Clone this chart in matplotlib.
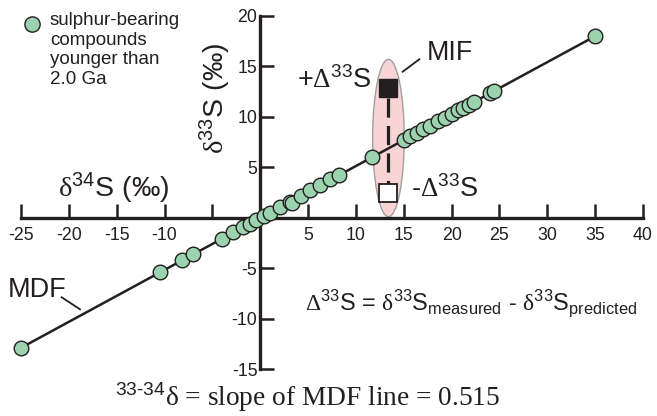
import matplotlib
matplotlib.use("Agg")
import matplotlib.pyplot as plt
from matplotlib.patches import Ellipse
from matplotlib.ticker import FixedLocator, FuncFormatter

plt.rcParams['font.family'] = ['Liberation Sans', 'DejaVu Sans']
plt.rcParams['mathtext.fontset'] = 'custom'
plt.rcParams['mathtext.rm'] = 'Liberation Sans'
plt.rcParams['mathtext.it'] = 'Liberation Sans:italic'
plt.rcParams['mathtext.bf'] = 'Liberation Sans:bold'
plt.rcParams['mathtext.sf'] = 'Liberation Serif'

# ---- data ----
d34 = [-25.0, -10.5, -8.2, -7.0, -4.0, -2.8, -1.8, -1.1, -0.4, 0.4, 1.0, 2.1, 3.1, 3.3,
       4.3, 5.2, 6.2, 7.3, 8.2, 11.7, 15.0, 15.7, 16.4, 17.0, 17.7, 18.6, 19.3, 20.0,
       20.7, 21.2, 21.8, 22.3, 24.0, 24.4, 35.0]
d33 = [-12.9, -5.4, -4.2, -3.6, -2.1, -1.4, -0.9, -0.6, -0.2, 0.2, 0.5, 1.1, 1.6, 1.45,
       2.2, 2.7, 3.2, 3.8, 4.2, 6.0, 7.7, 8.1, 8.4, 8.8, 9.1, 9.6, 9.9, 10.3,
       10.7, 10.9, 11.2, 11.5, 12.4, 12.6, 18.0]
mdf_x = [-25.0, 35.0]
mdf_y = [-12.9, 18.0]
mif_x = [13.3, 13.3]
mif_y = [12.9, 2.5]          # +D33S (filled) and -D33S (open) squares
xticks = [-25, -20, -15, -10, -5, 5, 10, 15, 20, 25, 30, 35, 40]
yticks = [-15, -10, -5, 5, 10, 15, 20]
hidden_xlabels = [-5]

W, H = 657, 416
fig = plt.figure(figsize=(W / 100, H / 100), dpi=100)

def fx(px):
    return px / W

def fy(py):
    return 1 - py / H

left, right, top, bottom = 21, 643, 16, 369
ax = fig.add_axes([fx(left), fy(bottom), (right - left) / W, (bottom - top) / H])
ax.set_xlim(-25, 40)
ax.set_ylim(-15, 20)
ax.patch.set_visible(False)

for s in ['top', 'right']:
    ax.spines[s].set_visible(False)
ax.spines['left'].set_position(('data', 0))
ax.spines['bottom'].set_position(('data', 0))
for s in ['left', 'bottom']:
    ax.spines[s].set_linewidth(2.4)
    ax.spines[s].set_color('#231f20')
    ax.spines[s].set_zorder(2.5)

ax.xaxis.set_major_locator(FixedLocator(xticks))
ax.yaxis.set_major_locator(FixedLocator(yticks))
ax.xaxis.set_major_formatter(FuncFormatter(lambda v, p: '' if v in hidden_xlabels else '%d' % v))
ax.yaxis.set_major_formatter(FuncFormatter(lambda v, p: '%d' % v))
ax.tick_params(axis='both', direction='in', length=10, width=1.8, color='#231f20',
               labelsize=12.8, labelcolor='#231f20')
ax.tick_params(axis='x', pad=7)
ax.tick_params(axis='y', pad=2)

# MIF ellipse
ell = Ellipse((13.4, 7.9), 3.3, 15.6, facecolor='#f9d4d4', edgecolor='#a0a0a0',
              linewidth=1.0, zorder=1)
ax.add_patch(ell)

# MDF line
ax.plot(mdf_x, mdf_y, color='#231f20', lw=1.8, zorder=2, clip_on=False)

# data points
ax.plot(d34, d33, 'o', ms=10.5, mfc='#9bd3ae', mec='#231f20', mew=1.0,
        zorder=3, clip_on=False)

# MIF dashed connector and squares
ax.plot(mif_x, [mif_y[0] - 1.0, mif_y[1] + 0.8], color='#231f20', lw=2.3,
        linestyle=(0, (6.0, 2.6)), zorder=3.5)
ax.plot(mif_x[0], mif_y[0], 's', ms=13, mfc='#231f20', mec='#231f20', zorder=4)
ax.plot(mif_x[1], mif_y[1], 's', ms=12.5, mfc='white', mec='#231f20', mew=1.3, zorder=4)

tc = '#231f20'
# legend
fig.lines.append(plt.Line2D([fx(31.7)], [fy(24)], marker='o', ms=11, mfc='#9bd3ae',
                            mec=tc, mew=1.0, transform=fig.transFigure))
fig.text(fx(50), fy(12), 'sulphur-bearing\ncompounds\nyounger than\n2.0 Ga',
         fontsize=13.5, va='top', ha='left', color=tc, linespacing=1.2)

# axis labels
fig.text(fx(114), fy(197), r'$\mathsf{\delta}^{34}$S (‰)', fontsize=20.5,
         ha='center', va='baseline', color=tc)
fig.text(fx(215), fy(98), r'$\mathsf{\delta}^{33}$S (‰)', fontsize=20.5,
         ha='center', va='center', rotation=90, color=tc)

# annotations
fig.text(fx(297), fy(88), r'+$\mathsf{\Delta}^{33}$S', fontsize=19.5,
         ha='left', va='baseline', color=tc)
fig.text(fx(411), fy(197), r'-$\mathsf{\Delta}^{33}$S', fontsize=19.5,
         ha='left', va='baseline', color=tc)
fig.text(fx(427), fy(60), 'MIF', fontsize=19.3, ha='left', va='baseline', color=tc)
fig.lines.append(plt.Line2D([fx(402.7), fx(419.3)], [fy(71.7), fy(59.3)], color=tc,
                            lw=1.3, transform=fig.transFigure))
fig.text(fx(8), fy(297), 'MDF', fontsize=19.5, ha='left', va='baseline', color=tc)
fig.lines.append(plt.Line2D([fx(61.7), fx(80)], [fy(297.3), fy(309.3)], color=tc,
                            lw=1.3, transform=fig.transFigure))

fig.text(fx(305), fy(310),
         r'$\mathsf{\Delta}^{33}$S = $\mathsf{\delta}^{33}$S$_{\mathrm{measured}}$'
         r' - $\mathsf{\delta}^{33}$S$_{\mathrm{predicted}}$',
         fontsize=16.9, ha='left', va='baseline', color=tc)

fig.text(fx(115), fy(406.5),
         r'$^{\text{33-34}}\mathsf{\delta}$' + ' = slope of MDF line = 0.515',
         fontsize=19.7, ha='left', va='baseline', color=tc,
         family=['Liberation Serif', 'DejaVu Serif'])

fig.savefig('out.png', dpi=100)
